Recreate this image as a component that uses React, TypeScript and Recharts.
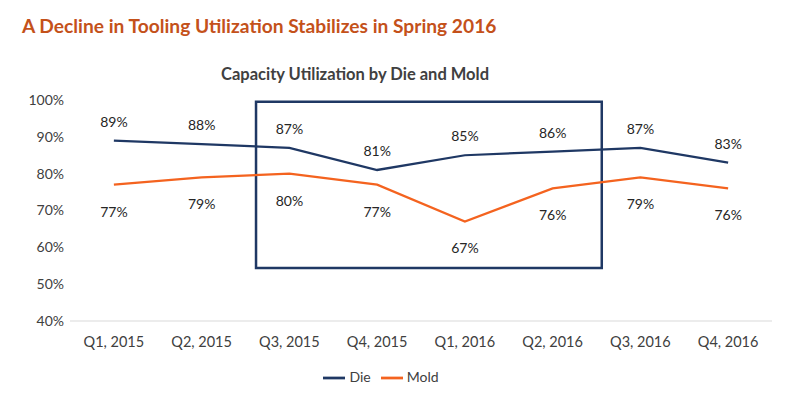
import { LineChart, Line, XAxis, YAxis, Legend, LabelList, ReferenceArea } from "recharts";

const quarters = ["Q1, 2015", "Q2, 2015", "Q3, 2015", "Q4, 2015", "Q1, 2016", "Q2, 2016", "Q3, 2016", "Q4, 2016"];
const die = [89, 88, 87, 81, 85, 86, 87, 83];
const mold = [77, 79, 80, 77, 67, 76, 79, 76];
const yTicks = [40, 50, 60, 70, 80, 90, 100];

const data = quarters.map((q, i) => ({ idx: i, quarter: q, die: die[i], mold: mold[i] }));

const font = "Lato, 'Open Sans', sans-serif";

export default function App() {
  return (
    <div style={{ position: "absolute", left: 0, top: 0, width: 800, height: 393, background: "#fff", fontFamily: font }}>
      <div style={{ position: "absolute", left: 22, top: 14, fontSize: 19.2, fontWeight: 700, color: "#C4511A", whiteSpace: "nowrap" }}>
        A Decline in Tooling Utilization Stabilizes in Spring 2016
      </div>
      <div style={{ position: "absolute", left: 221, top: 64, fontSize: 16.5, fontWeight: 700, color: "#404040", whiteSpace: "nowrap" }}>
        Capacity Utilization by Die and Mold
      </div>
      <LineChart width={800} height={393} data={data} margin={{ top: 100, right: 28, left: 0, bottom: 6 }} style={{ position: "absolute", left: 0, top: 0 }}>
        <XAxis
          dataKey="idx"
          type="number"
          domain={[-0.5, 7.5]}
          ticks={[0, 1, 2, 3, 4, 5, 6, 7]}
          tickFormatter={(v: number) => quarters[v]}
          height={30}
          tickSize={0}
          tickMargin={16}
          stroke="#d9d9d9"
          tick={{ fill: "#404040", fontSize: 14.5, fontFamily: font }}
        />
        <YAxis
          domain={[40, 100]}
          ticks={yTicks}
          tickFormatter={(v: number) => `${v}%`}
          width={70}
          axisLine={false}
          tickLine={false}
          tickSize={0}
          tickMargin={6}
          tick={{ fill: "#404040", fontSize: 14, fontFamily: font }}
        />
        <ReferenceArea x1={1.62} x2={5.56} y1={54.4} y2={99.5} fill="none" fillOpacity={0} stroke="#1F3864" strokeWidth={2.5} ifOverflow="visible" />
        <Line dataKey="die" name="Die" stroke="#1F3864" strokeWidth={2.25} dot={false} isAnimationActive={false}>
          <LabelList dataKey="die" position="top" offset={14} formatter={(v: number) => `${v}%`} style={{ fill: "#262626", fontSize: 14, fontFamily: font }} />
        </Line>
        <Line dataKey="mold" name="Mold" stroke="#F4631F" strokeWidth={2.25} dot={false} isAnimationActive={false}>
          <LabelList dataKey="mold" position="bottom" offset={22} formatter={(v: number) => `${v}%`} style={{ fill: "#262626", fontSize: 14, fontFamily: font }} />
        </Line>
        <Legend
          verticalAlign="bottom"
          height={36}
          iconType="plainline"
          iconSize={22}
          formatter={(value: string) => <span style={{ color: "#404040" }}>{value}</span>}
          wrapperStyle={{ top: 367, fontSize: 14, fontFamily: font }}
        />
      </LineChart>
    </div>
  );
}
